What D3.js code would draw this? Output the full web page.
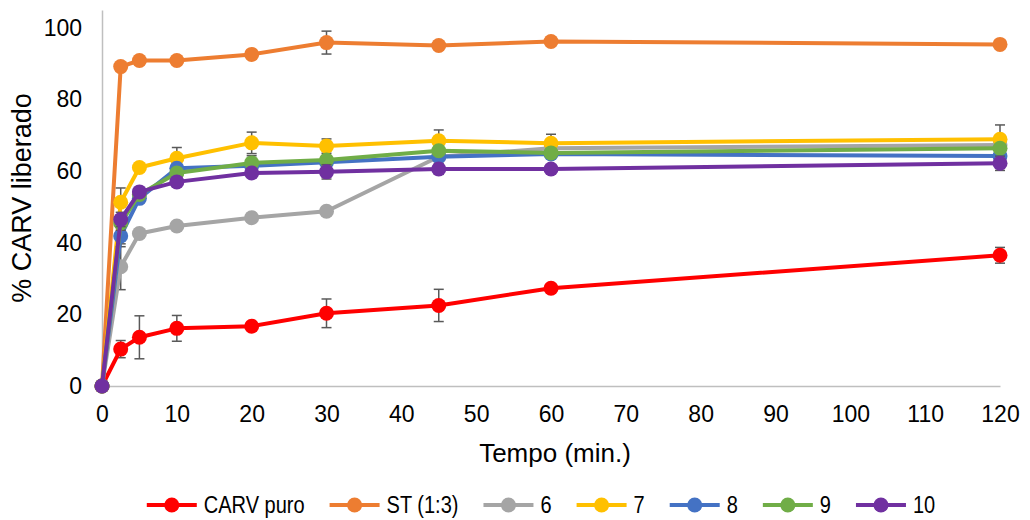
<!DOCTYPE html>
<html>
<head>
<meta charset="utf-8">
<script src="https://cdn.jsdelivr.net/npm/d3@7"></script>
<style>
  body { margin: 0; background: #fff; }
  svg { font-family: "Liberation Sans", Arial, sans-serif; }
</style>
</head>
<body>
<div id="chart"></div>
<script>
// time points (min.)
var tempo = [0, 2.5, 5, 10, 20, 30, 45, 60, 120];

var seriesNames = ["CARV puro", "ST (1:3)", "6", "7", "8", "9", "10"];
var seriesColors = ["#FF0000", "#ED7D31", "#A5A5A5", "#FFC000", "#4472C4", "#70AD47", "#7030A0"];

var carvPuro = [0, 10.3, 13.6, 16.1, 16.7, 20.3, 22.5, 27.3, 36.5];
var carvPuroErr = [0, 2.4, 6.0, 3.6, 0.8, 4.0, 4.5, 0.8, 2.2];
var st13 = [0, 89.2, 90.9, 90.9, 92.6, 95.9, 95.1, 96.2, 95.4];
var st13Err = [0, 0.8, 0.6, 0.6, 0.8, 3.2, 1.0, 1.2, 1.2];
var s6 = [0, 33.3, 42.6, 44.7, 47.0, 48.8, 64.0, 66.4, 67.3];
var s6Err = [0, 6.4, 1.0, 1.0, 1.2, 0.8, 1.0, 0.8, 0.8];
var s7 = [0, 51.3, 61.0, 63.6, 67.9, 67.0, 68.5, 67.8, 68.9];
var s7Err = [0, 4.0, 1.0, 3.0, 3.0, 2.0, 3.0, 2.5, 4.0];
var s8 = [0, 41.9, 52.4, 60.8, 61.5, 62.5, 64.0, 64.8, 64.2];
var s8Err = [0, 3.0, 1.0, 1.0, 1.0, 1.0, 1.0, 1.0, 1.0];
var s9 = [0, 45.5, 53.5, 59.5, 62.3, 63.1, 65.7, 65.1, 66.4];
var s9Err = [0, 2.0, 1.0, 1.0, 2.0, 1.0, 1.0, 1.0, 1.0];
var s10 = [0, 46.5, 54.2, 57.0, 59.5, 59.8, 60.6, 60.6, 62.2];
var s10Err = [0, 2.0, 1.0, 1.0, 1.0, 2.0, 1.5, 1.0, 2.0];

var xTicks = [0, 10, 20, 30, 40, 50, 60, 70, 80, 90, 100, 110, 120];
var yTicks = [0, 20, 40, 60, 80, 100];

var allValues = [carvPuro, st13, s6, s7, s8, s9, s10];
var allErrors = [carvPuroErr, st13Err, s6Err, s7Err, s8Err, s9Err, s10Err];

var width = 1030, height = 520;
var margin = { top: 10, right: 30, bottom: 134, left: 102 };

var svg = d3.select("#chart").append("svg")
  .attr("width", width)
  .attr("height", height);

var xScale = d3.scaleLinear().domain([0, 120]).range([margin.left, width - margin.right]);
var yScale = d3.scaleLinear().domain([0, 105]).range([height - margin.bottom, margin.top]);

// axes: gray lines, no tick marks
var xAxis = svg.append("g")
  .attr("transform", "translate(0," + yScale(0) + ")")
  .call(d3.axisBottom(xScale).tickValues(xTicks).tickSize(0).tickPadding(20));
xAxis.select(".domain").attr("stroke", "#BFBFBF").attr("stroke-width", 1.5);
xAxis.selectAll("text").attr("font-size", "23px").attr("fill", "#000")
  .attr("font-family", "Liberation Sans, Arial, sans-serif");

var yAxis = svg.append("g")
  .attr("transform", "translate(" + xScale(0) + ",0)")
  .call(d3.axisLeft(yScale).tickValues(yTicks).tickSize(0).tickPadding(20));
yAxis.select(".domain").attr("stroke", "#BFBFBF").attr("stroke-width", 1.5);
yAxis.selectAll("text").attr("font-size", "23px").attr("fill", "#000")
  .attr("font-family", "Liberation Sans, Arial, sans-serif");

// axis titles
svg.append("text")
  .attr("x", 555)
  .attr("y", 462)
  .attr("text-anchor", "middle")
  .attr("font-size", "26px")
  .text("Tempo (min.)");

svg.append("text")
  .attr("transform", "translate(31,198) rotate(-90)")
  .attr("text-anchor", "middle")
  .attr("font-size", "27px")
  .text("% CARV liberado");

var line = d3.line()
  .x(function (d) { return xScale(d.t); })
  .y(function (d) { return yScale(d.v); });

allValues.forEach(function (vals, i) {
  var data = tempo.map(function (t, j) { return { t: t, v: vals[j], e: allErrors[i][j] }; });
  var g = svg.append("g");

  // error bars
  var eb = g.selectAll("g.err")
    .data(data.filter(function (d) { return d.e > 0; }))
    .enter().append("g").attr("class", "err")
    .attr("stroke", "#595959").attr("stroke-width", 1.5);
  eb.append("line")
    .attr("x1", function (d) { return xScale(d.t); })
    .attr("x2", function (d) { return xScale(d.t); })
    .attr("y1", function (d) { return yScale(d.v - d.e); })
    .attr("y2", function (d) { return yScale(d.v + d.e); });
  eb.append("line")
    .attr("x1", function (d) { return xScale(d.t) - 5; })
    .attr("x2", function (d) { return xScale(d.t) + 5; })
    .attr("y1", function (d) { return yScale(d.v + d.e); })
    .attr("y2", function (d) { return yScale(d.v + d.e); });
  eb.append("line")
    .attr("x1", function (d) { return xScale(d.t) - 5; })
    .attr("x2", function (d) { return xScale(d.t) + 5; })
    .attr("y1", function (d) { return yScale(d.v - d.e); })
    .attr("y2", function (d) { return yScale(d.v - d.e); });

  g.append("path")
    .datum(data)
    .attr("fill", "none")
    .attr("stroke", seriesColors[i])
    .attr("stroke-width", 4)
    .attr("stroke-linejoin", "round")
    .attr("d", line);

  g.selectAll("circle")
    .data(data)
    .enter().append("circle")
    .attr("cx", function (d) { return xScale(d.t); })
    .attr("cy", function (d) { return yScale(d.v); })
    .attr("r", 7.5)
    .attr("fill", seriesColors[i]);
});

// legend (condensed text via horizontal scale)
var legend = svg.append("g");
var xPos = 0;
var squeeze = 0.87;
seriesNames.forEach(function (name, i) {
  var it = legend.append("g");
  it.append("line")
    .attr("x1", 0).attr("x2", 50)
    .attr("stroke", seriesColors[i]).attr("stroke-width", 4);
  it.append("circle").attr("cx", 25).attr("r", 7.5).attr("fill", seriesColors[i]);
  var txt = it.append("text")
    .attr("transform", "translate(57,8) scale(" + squeeze + ",1)")
    .attr("font-size", "23px")
    .text(name);
  var w = 57 + txt.node().getComputedTextLength() * squeeze;
  it.attr("transform", "translate(" + xPos + ",0)");
  xPos += w + 25;
});
var legendWidth = xPos - 25;
legend.attr("transform", "translate(" + (541 - legendWidth / 2) + ",505)");
</script>
</body>
</html>
